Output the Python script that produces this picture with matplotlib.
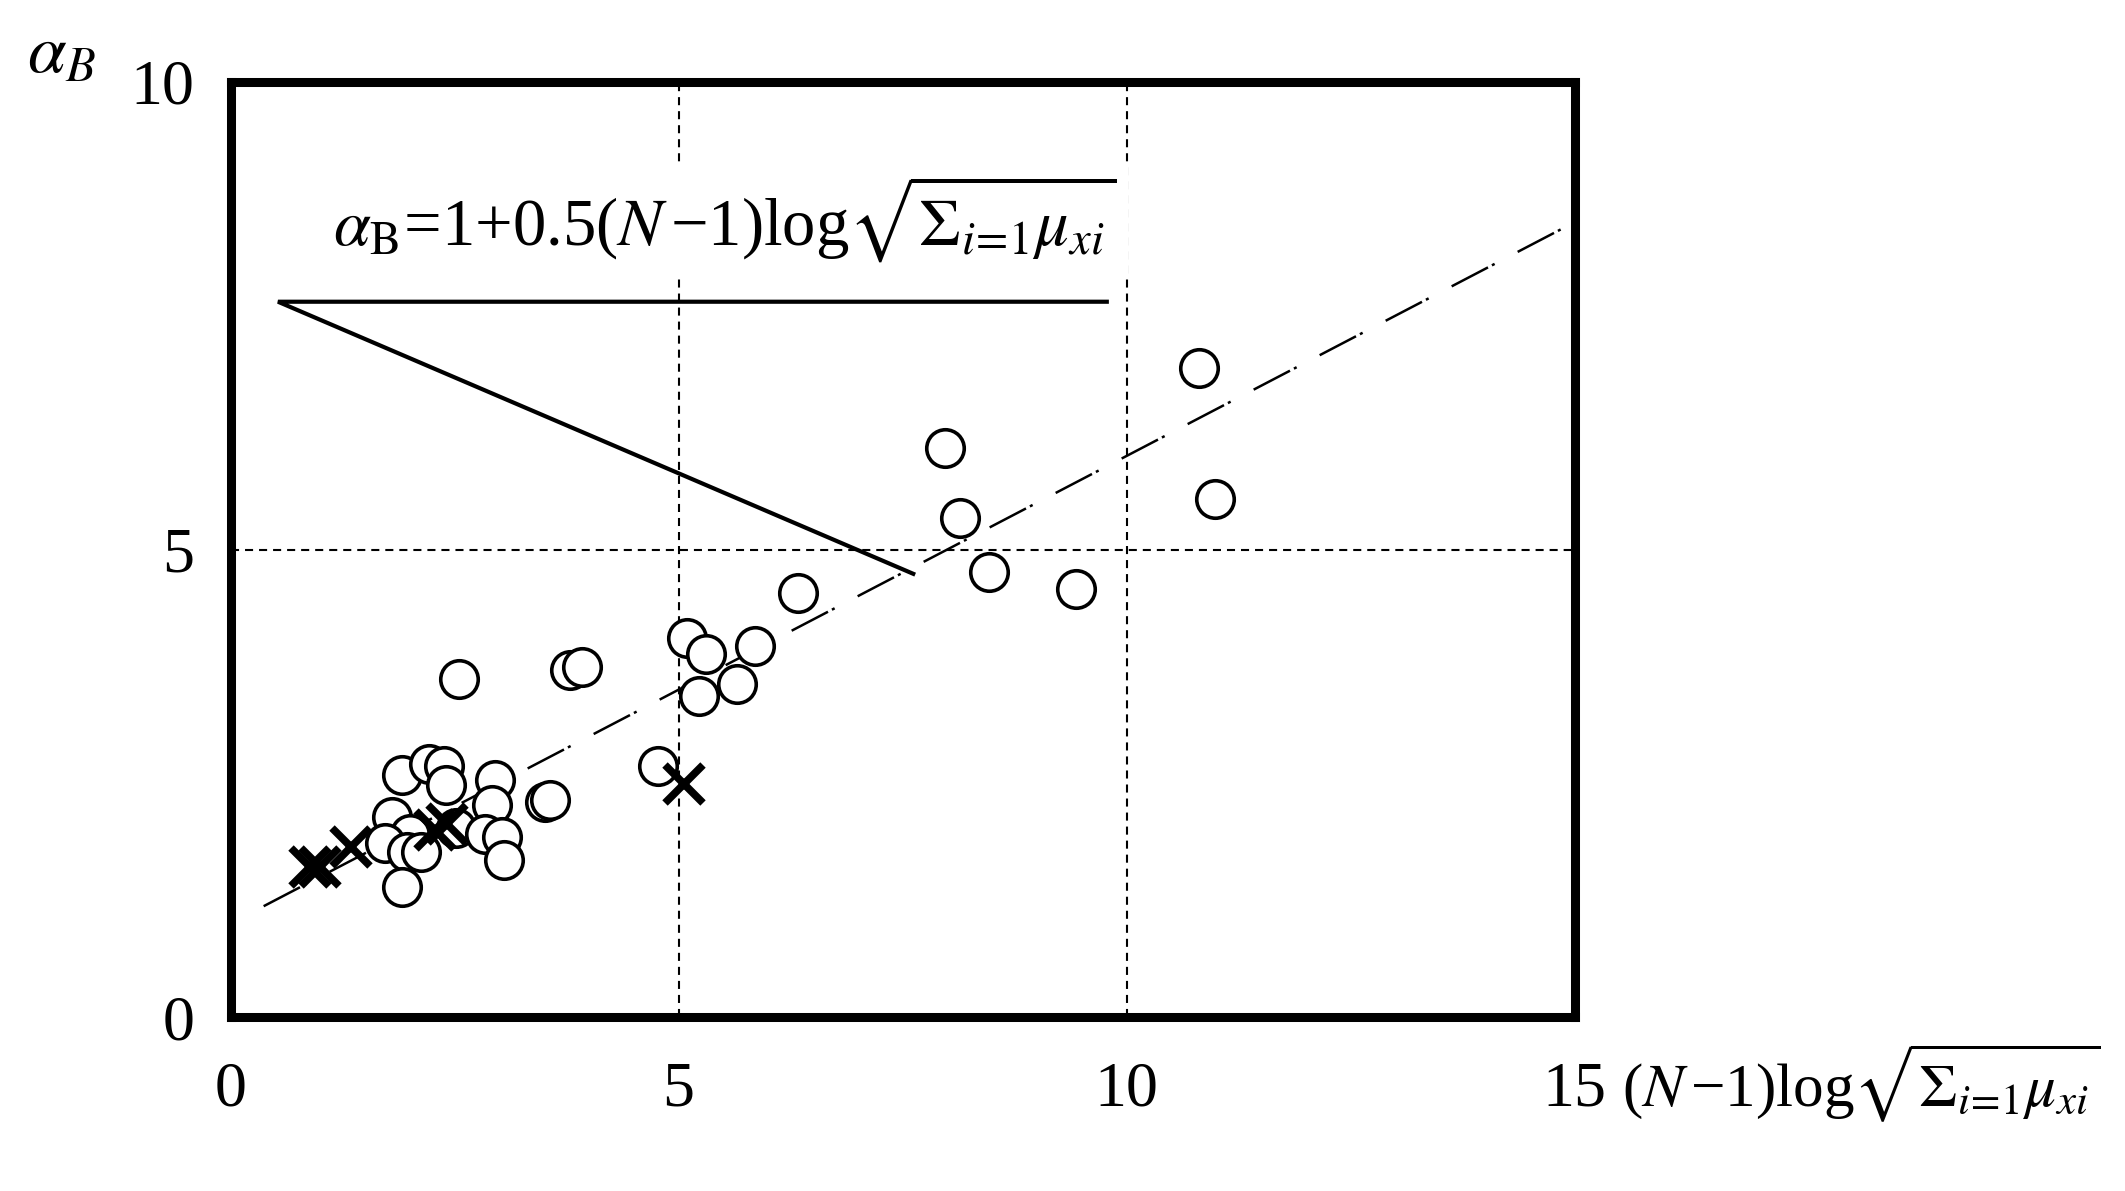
import numpy as np
import matplotlib
matplotlib.use("Agg")
import matplotlib.pyplot as plt

plt.rcParams['font.family'] = ['Liberation Serif', 'DejaVu Serif']
plt.rcParams['mathtext.fontset'] = 'stix'
plt.rcParams['lines.scale_dashes'] = False

# ---- data ----
circle_x = [1.91, 2.22, 2.38, 2.41, 2.95, 2.92, 3.51, 3.57, 1.80, 2.00, 1.72, 1.97, 2.13, 1.91,
            2.52, 2.84, 3.03, 3.05,
            2.55, 3.79, 3.92, 4.77, 5.10, 5.31, 5.85, 5.23, 5.65, 6.33,
            7.97, 8.14, 8.47, 9.44, 10.81, 10.99]
circle_y = [2.59, 2.71, 2.68, 2.48, 2.54, 2.27, 2.30, 2.32, 2.14, 1.96, 1.86, 1.77, 1.77, 1.39,
            2.02, 1.96, 1.93, 1.68,
            3.61, 3.71, 3.74, 2.68, 4.05, 3.88, 3.97, 3.43, 3.56, 4.54,
            6.09, 5.34, 4.76, 4.58, 6.94, 5.54]
cross_x = [0.89, 1.00, 1.35, 2.28, 2.42, 5.06]
cross_y = [1.60, 1.60, 1.82, 2.00, 2.06, 2.49]

# fitted relation alpha_B = 1 + 0.5 x
fit_x = [0.37, 15.0]
fit_intercept = 1.0
fit_slope = 0.5

# annotation pointer (horizontal bar + leader)
pointer_x = [9.78, 0.53, 7.62]
pointer_y = [7.65, 7.65, 4.74]

x_ticks = [0, 5, 10, 15]
y_ticks = [0, 5, 10]
x_ticklabels = ['0', '5', '10', '15']
y_ticklabels = ['0', '5', '10']

FS = 46

W, H = 2125, 1191
fig = plt.figure(figsize=(W / 100, H / 100), dpi=100)
ax = fig.add_axes([230.5 / W, 1 - 1017 / H, (1574.5 - 230.5) / W, (1017 - 82) / H])
ax.set_xlim(0, 15)
ax.set_ylim(0, 10)

# grid lines at 5 and 10
for gx in [5, 10]:
    ax.axvline(gx, color='black', lw=1.5, dashes=(5.8, 4.3), zorder=1)
ax.axhline(5, color='black', lw=1.5, dashes=(5.8, 4.3), zorder=1)

# dash-dot fit line
fx = np.array(fit_x)
ax.plot(fx, fit_intercept + fit_slope * fx, color='black', lw=1.8,
        dashes=(29.5, 3.2, 2.2, 18.7), zorder=2)

# annotation pointer
ax.plot(pointer_x, pointer_y, color='black', lw=3, solid_joinstyle='miter', zorder=3)

ax.plot(circle_x, circle_y, 'o', ms=27, mfc='white', mec='black', mew=2.6, zorder=3)
ax.plot(cross_x, cross_y, 'x', ms=27, mec='black', mew=5.5, zorder=4)

for s in ax.spines.values():
    s.set_linewidth(6.5)
    s.set_color('black')

ax.set_xticks(x_ticks)
ax.set_xticklabels(x_ticklabels)
ax.set_yticks(y_ticks)
ax.set_yticklabels(y_ticklabels)
ax.tick_params(axis='both', length=0, labelsize=FS)
ax.tick_params(axis='x', pad=32)
ax.tick_params(axis='y', pad=26)

sub = r'\sqrt{\Sigma_{i\!=\!1}\mu_{xi}}'

# formula annotation (white backing hides the grid line behind it)
ax.text(1.14, 8.26,
        r'$\alpha_{\mathrm{B}}$=1+0.5($N\,$' + '\u2212' + r'1)log$' + sub + '$',
        fontsize=FS + 2, ha='left', va='baseline', zorder=2.5,
        bbox=dict(facecolor='white', edgecolor='none', pad=8))

# axis labels
fig.text(27 / W, 1 - 73 / H, r'$\alpha_B$', fontsize=50, ha='left', va='baseline')
fig.text(1622 / W, 1 - 1107 / H,
         r'($N\,$' + '\u2212' + r'1)log$' + sub + '$',
         fontsize=FS - 2, ha='left', va='baseline')

fig.savefig('out.png', dpi=100)
